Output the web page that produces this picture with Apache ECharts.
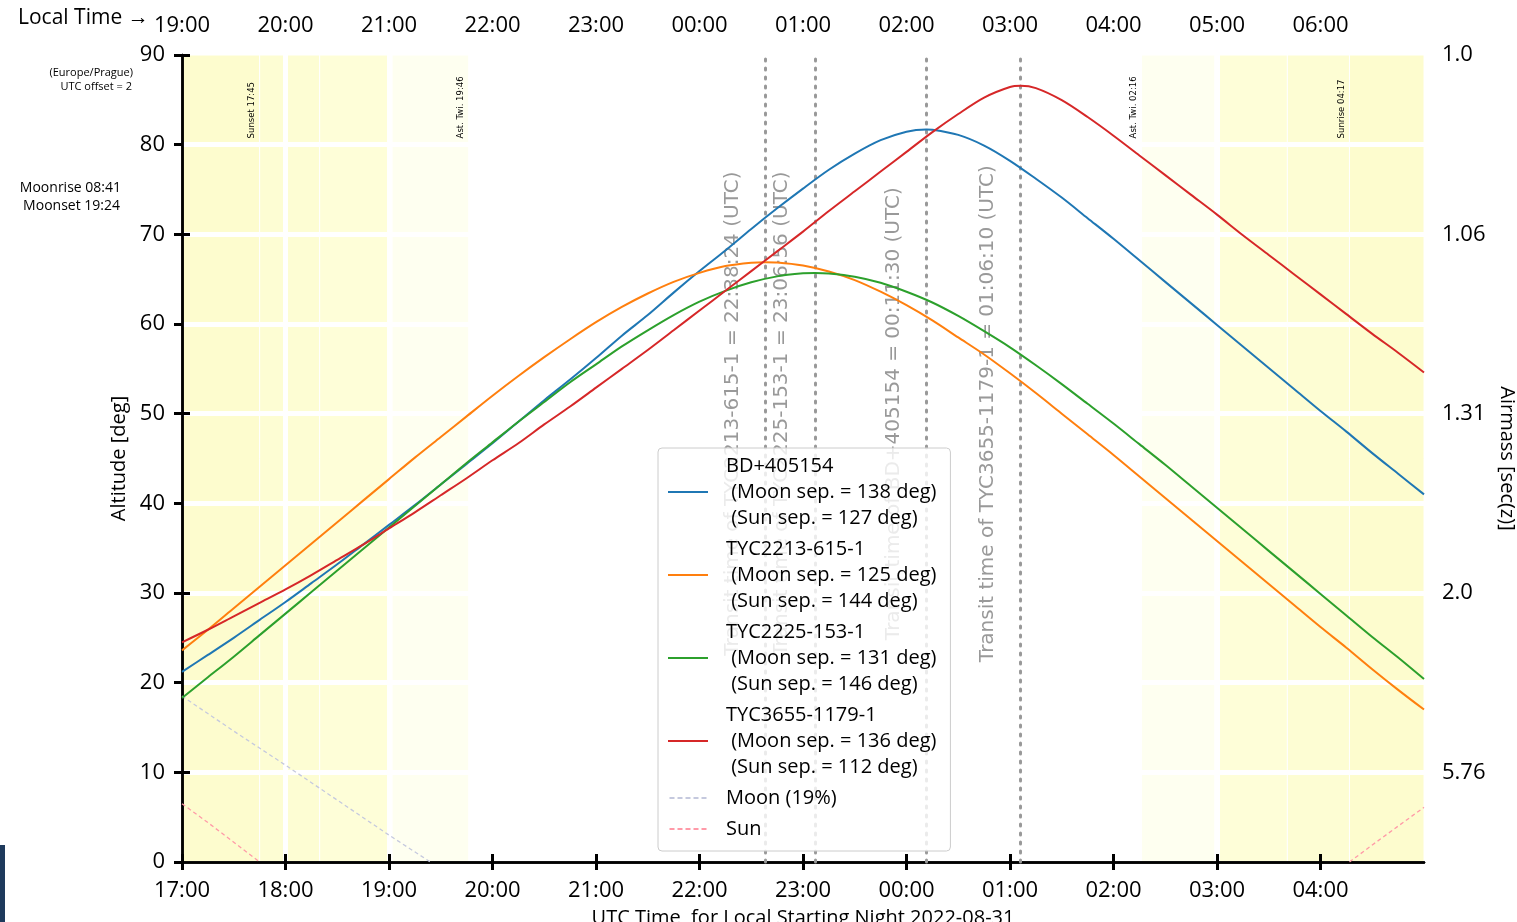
<!DOCTYPE html>
<html>
<head>
<meta charset="utf-8">
<script src="https://cdn.jsdelivr.net/npm/echarts@6/dist/echarts.min.js"></script>
<style>
  html, body { margin: 0; padding: 0; background: #fff; }
  #chart { width: 1517px; height: 922px; }
</style>
</head>
<body>
<div id="chart"></div>
<script>
// hours after 17:00 UTC, every 15 minutes
const HOURS = [0, 0.25, 0.5, 0.75, 1, 1.25, 1.5, 1.75, 2, 2.25, 2.5, 2.75, 3, 3.25, 3.5, 3.75, 4, 4.25, 4.5, 4.75,
  5, 5.25, 5.5, 5.75, 6, 6.25, 6.5, 6.75, 7, 7.25, 7.5, 7.75, 8, 8.25, 8.5, 8.75, 9, 9.25, 9.5, 9.75,
  10, 10.25, 10.5, 10.75, 11, 11.25, 11.5, 11.75, 12];

const BD405154 = [21.2, 23.1, 25.0, 27.0, 29.0, 31.1, 33.2, 35.4, 37.6, 39.8, 42.1, 44.4, 46.7, 49.1, 51.5, 53.8, 56.2, 58.7, 61.0, 63.5,
  65.9, 68.2, 70.6, 72.9, 75.1, 77.2, 79.0, 80.5, 81.45, 81.66, 81.09, 79.9, 78.2, 76.2, 74.1, 71.8, 69.5, 67.1, 64.7, 62.3,
  59.9, 57.5, 55.1, 52.7, 50.3, 48.0, 45.6, 43.3, 41.0];
const TYC2213 = [23.6, 25.9, 28.3, 30.7, 33.1, 35.5, 37.9, 40.3, 42.7, 45.1, 47.4, 49.7, 52.0, 54.2, 56.3, 58.3, 60.2, 61.9, 63.4, 64.7,
  65.7, 66.46, 66.84, 66.87, 66.53, 65.86, 64.9, 63.6, 62.1, 60.4, 58.5, 56.6, 54.5, 52.3, 50.0, 47.7, 45.4, 43.0, 40.6, 38.2,
  35.8, 33.4, 31.0, 28.6, 26.2, 23.9, 21.5, 19.2, 17.0];
const TYC2225 = [18.3, 20.6, 22.9, 25.3, 27.7, 30.1, 32.5, 34.9, 37.3, 39.7, 42.1, 44.5, 46.8, 49.1, 51.3, 53.5, 55.5, 57.5, 59.3, 61.0,
  62.5, 63.7, 64.65, 65.31, 65.65, 65.64, 65.28, 64.6, 63.6, 62.4, 60.9, 59.2, 57.4, 55.4, 53.3, 51.1, 48.9, 46.6, 44.3, 41.9,
  39.5, 37.1, 34.7, 32.3, 29.9, 27.5, 25.1, 22.8, 20.4];
const TYC3655 = [24.5, 25.9, 27.4, 28.9, 30.4, 32.0, 33.7, 35.4, 37.2, 39.0, 40.9, 42.8, 44.8, 46.7, 48.8, 50.8, 52.9, 55.0, 57.1, 59.3,
  61.5, 63.7, 65.9, 68.1, 70.3, 72.6, 74.8, 77.0, 79.2, 81.4, 83.42, 85.25, 86.43, 86.3, 84.96, 83.08, 81.0, 78.8, 76.6, 74.4,
  72.2, 69.9, 67.7, 65.5, 63.3, 61.1, 58.9, 56.8, 54.6];

// highest point of each target (at its transit)
const PEAK_HOURS = [7.192, 5.64, 6.116, 8.103];
const PEAK_ALT = [81.69, 66.9, 65.7, 86.56];

const MOON_HOURS = [0, 0.5, 1, 1.5, 2, 2.4];
const MOON_ALT = [18.5, 14.6, 10.8, 6.9, 3.0, 0];
const SUN_HOURS = [0, 0.25, 0.5, 0.75, 6, 11.28, 11.5, 11.75, 12];
const SUN_ALT = [6.5, 4.4, 2.2, 0, null, 0, 1.9, 4.0, 6.1];

const TARGETS = ['BD+405154', 'TYC2213-615-1', 'TYC2225-153-1', 'TYC3655-1179-1'];
const MOON_SEP = [138, 125, 131, 136];
const SUN_SEP = [127, 144, 146, 112];

const TRANSIT_HOURS = [5.64, 6.116, 7.192, 8.103];
const TRANSIT_NAMES = ['TYC2213-615-1', 'TYC2225-153-1', 'BD+405154', 'TYC3655-1179-1'];
const TRANSIT_TIMES = ['22:38:24', '23:06:56', '00:11:30', '01:06:10'];

const BAND_START = [0, 0.75, 1.33, 2.03, 9.27, 9.98, 10.68, 11.28];
const BAND_END = [0.75, 1.33, 2.03, 2.77, 9.98, 10.68, 11.28, 12];
const BAND_KIND = ['day', 'civil', 'nautical', 'astro', 'astro', 'nautical', 'civil', 'day'];

const EVENT_HOURS = [0.75, 2.767, 9.267, 11.283];
const EVENT_LABELS = ['Sunset 17:45', 'Ast. Twi. 19:46', 'Ast. Twi. 02:16', 'Sunrise 04:17'];

const TICK_POS = [0, 1, 2, 3, 4, 5, 6, 7, 8, 9, 10, 11];
const UTC_TICKS = ['17:00', '18:00', '19:00', '20:00', '21:00', '22:00', '23:00', '00:00', '01:00', '02:00', '03:00', '04:00'];
const LOCAL_TICKS = ['19:00', '20:00', '21:00', '22:00', '23:00', '00:00', '01:00', '02:00', '03:00', '04:00', '05:00', '06:00'];
const AIRMASS_POS = [10, 30, 50, 70, 90];
const AIRMASS_TICKS = ['5.76', '2.0', '1.31', '1.06', '1.0'];

const FONT = "'Comic Sans MS', 'Open Sans', sans-serif";
const THIN = "'DejaVu Sans', sans-serif";
const COLORS = ['#1f77b4', '#ff7f0e', '#2ca02c', '#d62728'];
const BAND_COLORS = { day: '#fdfcce', civil: '#fdfdd3', nautical: '#fefed8', astro: '#fefff0' };
const SOLID_ICON = 'path://M0,0H40V2H0Z';
const DASH_ICON = 'path://M0,0H5V2H0ZM8,0H13V2H8ZM16,0H21V2H16ZM24,0H29V2H24ZM32,0H37V2H32Z';

const chart = echarts.init(document.getElementById('chart'));

const pairs = (xs, ys) => xs.map((x, i) => [x, ys[i] === null ? '-' : ys[i]]);

const axisLine = { lineStyle: { color: '#000', width: 2.5 } };
const tick = (values) => ({ customValues: values, inside: false, length: 8, lineStyle: { color: '#000', width: 3 } });

const targetSeries = [BD405154, TYC2213, TYC2225, TYC3655].map((alt, i) => ({
  name: TARGETS[i],
  type: 'line',
  smooth: 0.3,
  symbol: 'none',
  z: 3,
  data: pairs(HOURS, alt).concat([[PEAK_HOURS[i], PEAK_ALT[i]]]).sort((a, b) => a[0] - b[0]),
  lineStyle: { color: COLORS[i], width: 2 },
  itemStyle: { color: COLORS[i] },
}));

const legendText = (name) => {
  const i = TARGETS.indexOf(name);
  if (i < 0) return name;
  return name + '\n (Moon sep. = ' + MOON_SEP[i] + ' deg)\n (Sun sep. = ' + SUN_SEP[i] + ' deg)';
};

const option = {
  animation: false,
  textStyle: { fontFamily: FONT },
  grid: { left: 182, right: 93, top: 55, bottom: 60, outerBoundsMode: 'none', containLabel: false },
  legend: {
    orient: 'vertical',
    left: 658,
    top: 448,
    padding: [5, 14, 9, 10],
    itemGap: 5,
    itemWidth: 42,
    itemHeight: 2,
    backgroundColor: 'rgba(255,255,255,0.8)',
    borderColor: '#cccccc',
    borderWidth: 1,
    borderRadius: 4,
    data: TARGETS.map((n) => ({ name: n, icon: SOLID_ICON }))
      .concat([{ name: 'Moon (19%)', icon: DASH_ICON }, { name: 'Sun', icon: DASH_ICON }]),
    formatter: legendText,
    textStyle: { fontSize: 20, lineHeight: 26, color: '#000', fontFamily: FONT, padding: [0, 0, 0, 12] },
  },
  xAxis: [
    {
      type: 'value', min: 0, max: 12, interval: 1, position: 'bottom',
      axisLine: axisLine,
      axisTick: tick(TICK_POS),
      axisLabel: {
        customValues: TICK_POS, fontSize: 22, color: '#000', margin: 18,
        formatter: (v) => UTC_TICKS[TICK_POS.indexOf(v)] || '',
      },
      splitLine: { show: true, showMinLine: false, showMaxLine: false, lineStyle: { color: '#fff', width: 5 } },
      name: 'UTC Time, for Local Starting Night 2022-08-31',
      nameLocation: 'middle', nameGap: 46,
      nameTextStyle: { fontSize: 20, color: '#000' },
    },
    {
      type: 'value', min: 0, max: 12, interval: 1, position: 'top',
      axisLine: axisLine,
      axisTick: tick(TICK_POS),
      axisLabel: {
        customValues: TICK_POS, fontSize: 22, color: '#000', margin: 18,
        formatter: (v) => LOCAL_TICKS[TICK_POS.indexOf(v)] || '',
      },
      splitLine: { show: false },
    },
  ],
  yAxis: [
    {
      type: 'value', min: 0, max: 90, interval: 10, position: 'left',
      axisLine: axisLine,
      axisTick: { inside: false, length: 8, lineStyle: { color: '#000', width: 3 } },
      axisLabel: { fontSize: 22, color: '#000', margin: 17 },
      splitLine: { show: true, showMinLine: false, showMaxLine: false, lineStyle: { color: '#fff', width: 5 } },
      name: 'Altitude [deg]', nameLocation: 'middle', nameRotate: 90, nameGap: 48,
      nameTextStyle: { fontSize: 20, color: '#000' },
    },
    {
      type: 'value', min: 0, max: 90, position: 'right',
      axisLine: axisLine,
      axisTick: tick(AIRMASS_POS),
      axisLabel: {
        customValues: AIRMASS_POS, fontSize: 22, color: '#000', margin: 18,
        formatter: (v) => AIRMASS_TICKS[AIRMASS_POS.indexOf(v)] || '',
      },
      splitLine: { show: false },
      name: 'Airmass [sec(z)]', nameLocation: 'middle', nameRotate: -90, nameGap: 72,
      nameTextStyle: { fontSize: 20, color: '#000' },
    },
  ],
  series: [
    {
      name: 'twilight', type: 'line', data: [], z: -1, silent: true,
      markArea: {
        silent: true, z: -1,
        data: BAND_START.map((s, i) => [
          { xAxis: s, itemStyle: { color: BAND_COLORS[BAND_KIND[i]], borderColor: '#fff', borderWidth: 1 } },
          { xAxis: BAND_END[i] },
        ]),
      },
    },
    {
      name: 'transit', type: 'line', data: [], z: 1, silent: true,
      markLine: {
        silent: true, z: 1, symbol: ['none', 'none'], label: { show: false },
        lineStyle: { color: '#999', type: [2, 7], width: 3, cap: 'round' },
        data: TRANSIT_HOURS.map((t) => ({ xAxis: t })),
      },
    },
    ...targetSeries,
    {
      name: 'Moon (19%)', type: 'line', symbol: 'none', z: 2,
      data: pairs(MOON_HOURS, MOON_ALT),
      lineStyle: { color: '#c5c9de', width: 1.3, type: [4, 3] },
      itemStyle: { color: '#c5c9de' },
    },
    {
      name: 'Sun', type: 'line', symbol: 'none', z: 2, connectNulls: false,
      data: pairs(SUN_HOURS, SUN_ALT),
      lineStyle: { color: '#ff9aa8', width: 1.3, type: [4, 3] },
      itemStyle: { color: '#ff9aa8' },
    },
  ],
};

chart.setOption(option);

const px = (h, alt) => chart.convertToPixel({ xAxisIndex: 0, yAxisIndex: 0 }, [h, alt]);

const graphics = [
  { type: 'text', left: 18, top: 8, style: { text: 'Local Time →', font: '21px ' + FONT, fill: '#000' } },
  { type: 'text', x: 133, y: 73, style: { text: '(Europe/Prague)', font: '11px ' + FONT, fill: '#000', textAlign: 'right', textVerticalAlign: 'middle' } },
  { type: 'text', x: 132, y: 87, style: { text: 'UTC offset = 2', font: '11px ' + FONT, fill: '#000', textAlign: 'right', textVerticalAlign: 'middle' } },
  { type: 'text', x: 121, y: 188, style: { text: 'Moonrise 08:41', font: '14px ' + FONT, fill: '#000', textAlign: 'right', textVerticalAlign: 'middle' } },
  { type: 'text', x: 120, y: 206, style: { text: 'Moonset 19:24', font: '14px ' + FONT, fill: '#000', textAlign: 'right', textVerticalAlign: 'middle' } },
  { type: 'rect', shape: { x: 0, y: 845, width: 5, height: 77 }, style: { fill: '#1e3a5c' } },
];

TRANSIT_HOURS.forEach((t, i) => {
  const p = px(t, 50);
  graphics.push({
    type: 'text', x: p[0] - 23, y: p[1], rotation: Math.PI / 2, z: 1,
    style: {
      text: 'Transit time of ' + TRANSIT_NAMES[i] + ' = ' + TRANSIT_TIMES[i] + ' (UTC)',
      font: '20px ' + THIN, fill: '#999', textAlign: 'center', textVerticalAlign: 'bottom',
    },
  });
});

EVENT_HOURS.forEach((t, i) => {
  const p = px(t, 80.7);
  graphics.push({
    type: 'text', x: p[0] - 3, y: p[1], rotation: Math.PI / 2, z: 1,
    style: { text: EVENT_LABELS[i], font: '8.5px ' + THIN, fill: '#000', textAlign: 'left', textVerticalAlign: 'bottom' },
  });
});

chart.setOption({ graphic: graphics });
</script>
</body>
</html>
